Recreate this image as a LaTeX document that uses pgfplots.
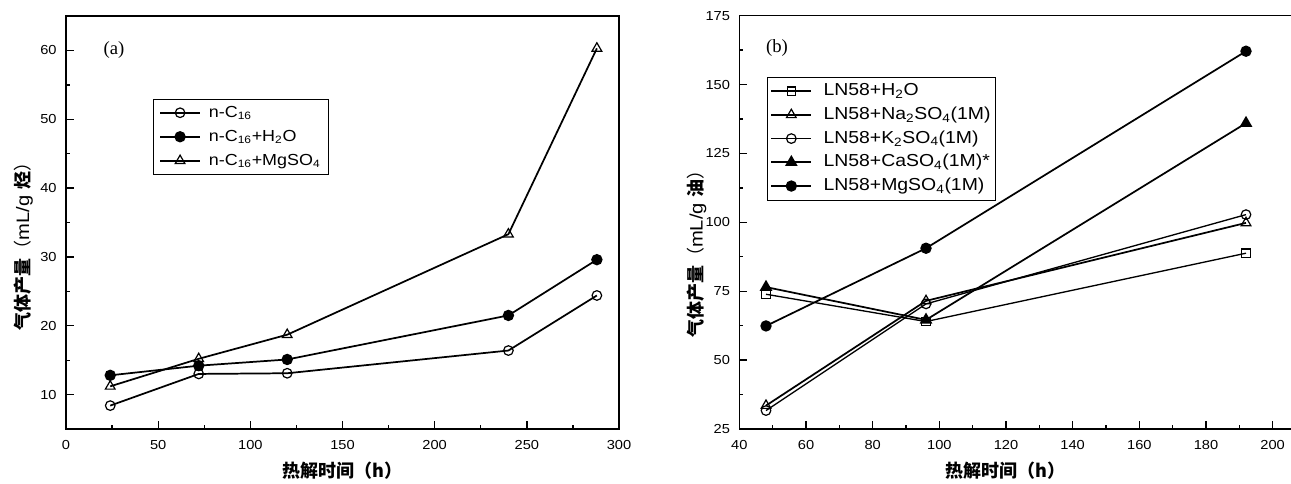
\documentclass[border=0pt]{standalone}
\usepackage{fontspec}
\usepackage{pgfplots}
\pgfplotsset{compat=1.18}
\setmainfont{Liberation Sans}[FakeStretch=1.12]
\newfontfamily\serif{Liberation Serif}
\newfontfamily\cjk{Noto Sans CJK SC}

% 1 px of the reference = 0.75pt
\pgfplotsset{
  panel/.style={
    scale only axis,
    anchor=south west,
    axis line style={line width=1.2pt},
    tick align=inside,
    xtick pos=bottom, ytick pos=left,
    major tick length=6pt, minor tick length=3pt,
    every tick/.style={black, line width=1pt},
    minor x tick num=1, minor y tick num=1,
    tick label style={font=\fontsize{9.8}{11}\selectfont},
    /pgf/number format/assume math mode=true,
    yticklabel style={xshift=-3.5pt},
    xticklabel style={yshift=-5pt},
    every axis x label/.style={at={(rel axis cs:0.5,0)}, yshift=-31.5pt, anchor=center,
      font=\cjk\bfseries\fontsize{13.5}{15}\selectfont},
    every axis y label/.style={at={(rel axis cs:0,0.453)}, xshift=-32pt, rotate=90, anchor=center,
      font=\fontsize{13.5}{15}\selectfont},
    legend cell align=left,
  },
  lim/.style={legend image code/.code={
    \draw[mark repeat=2,mark phase=2,##1] plot coordinates {(0pt,0pt)(15pt,0pt)(30pt,0pt)};}},
  ln/.style={black, line width=1.3pt},
  oc/.style={ln, mark=o, mark size=3.6pt, mark options={fill=white, line width=0.9pt}},
  fc/.style={ln, mark=*, mark size=3.6pt},
  ot/.style={ln, mark=triangle, mark size=4.2pt, mark options={fill=white, line width=0.9pt}},
  ft/.style={ln, mark=triangle*, mark size=4.2pt},
  os/.style={ln, mark=square, mark size=3.1pt, mark options={fill=white, line width=0.9pt}},
}

\begin{document}
\begin{tikzpicture}
% (a)
\begin{axis}[panel,
  at={(0pt,0pt)},
  width=414.75pt, height=309.75pt,
  xmin=0, xmax=300, ymin=5, ymax=65,
  xtick={0,50,...,300}, ytick={10,20,...,60},
  xlabel={热解时间（h）},
  ylabel={{\cjk\bfseries 气体产量}{\cjk （}mL/g {\cjk\bfseries 烃}{\cjk ）}},
  lim,
  legend style={at={(0.157,0.799)}, anchor=north west, draw=black, line width=0.6pt,
    font=\fontsize{12}{14}\selectfont, inner xsep=4.5pt, inner ysep=1pt,
    nodes={inner sep=1.5pt, text height=11pt, text depth=4pt},
    /tikz/every odd column/.append style={column sep=4.5pt}},
]
\addplot[oc] coordinates {(24,8.4) (72,13.0) (120,13.1) (240,16.4) (288,24.4)};
\addlegendentry{n-C\textsubscript{16}}
\addplot[fc] coordinates {(24,12.8) (72,14.2) (120,15.1) (240,21.5) (288,29.6)};
\addlegendentry{n-C\textsubscript{16}+H\textsubscript{2}O}
\addplot[ot] coordinates {(24,11.2) (72,15.2) (120,18.7) (240,33.3) (288,60.3)};
\addlegendentry{n-C\textsubscript{16}+MgSO\textsubscript{4}}
\node[font=\serif\fontsize{14}{16}\selectfont] at (axis cs:26,60.1) {(a)};
\end{axis}

% (b)
\begin{axis}[panel,
  at={(505pt,0pt)},
  width=415pt, height=310pt,
  xmin=40, xmax=206, ymin=25, ymax=175,
  xtick={40,60,...,200}, ytick={25,50,...,175},
  xlabel={热解时间（h）},
  every axis x label/.append style={at={(rel axis cs:0.481,0)}},
  ylabel={{\cjk\bfseries 气体产量}{\cjk （}mL/g {\cjk\bfseries 油}{\cjk ）}},
  every axis y label/.append style={xshift=-6pt},
  lim,
  legend style={at={(0.0507,0.852)}, anchor=north west, draw=black, line width=0.6pt,
    font=\fontsize{13}{15}\selectfont, inner xsep=2pt, inner ysep=1.5pt,
    nodes={inner sep=1.5pt, text height=10.8pt, text depth=4pt},
    /tikz/every odd column/.append style={column sep=7pt}},
]
\addplot[os, line width=1pt] coordinates {(48,73.9) (96,64.0) (192,88.8)};
\addlegendentry{LN58+H\textsubscript{2}O}
\addplot[ot] coordinates {(48,33.5) (96,71.5) (192,99.8)};
\addlegendentry{LN58+Na\textsubscript{2}SO\textsubscript{4}(1M)}
\addplot[oc, line width=1pt] coordinates {(48,31.7) (96,70.4) (192,102.8)};
\addlegendentry{LN58+K\textsubscript{2}SO\textsubscript{4}(1M)}
\addplot[ft] coordinates {(48,76.5) (96,64.6) (192,136.0)};
\addlegendentry{LN58+CaSO\textsubscript{4}(1M)*}
\addplot[fc] coordinates {(48,62.4) (96,90.6) (192,162.1)};
\addlegendentry{LN58+MgSO\textsubscript{4}(1M)}
\node[font=\serif\fontsize{14}{16}\selectfont] at (axis cs:51.3,163.4) {(b)};
\end{axis}
\pgfresetboundingbox
\path[use as bounding box] (-49.5pt,-40.5pt) rectangle (918.75pt,321.75pt);
\end{tikzpicture}
\end{document}
